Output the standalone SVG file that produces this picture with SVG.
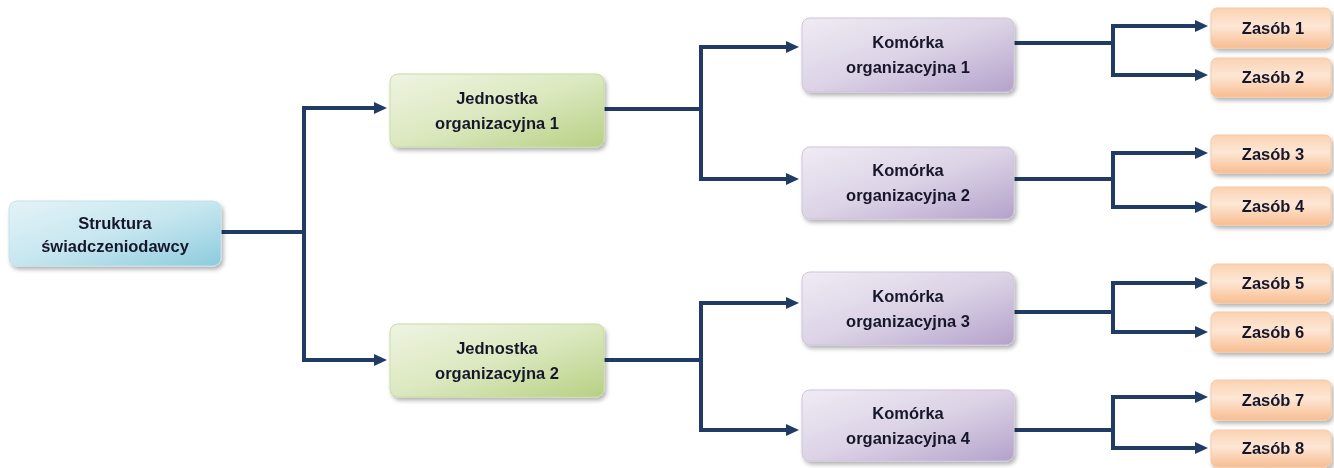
<svg xmlns="http://www.w3.org/2000/svg" width="1334" height="468" viewBox="0 0 1334 468">
<style>
.t{font-family:"Liberation Sans",Arial,sans-serif;font-weight:bold;font-size:16.5px;fill:#17172b;text-anchor:middle}
.c{fill:none;stroke:#203c64;stroke-width:4;stroke-linejoin:miter}
.a{marker-end:url(#ah)}
.root{fill:url(#gRoot);stroke:#c4e3ec;stroke-width:1}
.jed{fill:url(#gJed);stroke:#c9dca1;stroke-width:1}
.kom{fill:url(#gKom);stroke:#cfc4dc;stroke-width:1}
.zas{fill:url(#gZas);stroke:#f6c9a6;stroke-width:1}
</style>
<defs>
<marker id="ah" markerUnits="userSpaceOnUse" markerWidth="14" markerHeight="12" refX="4" refY="6" orient="auto">
<path d="M0,0 L13,6 L0,12 z" fill="#203c64"/>
</marker>
<filter id="sh" x="-10%" y="-20%" width="125%" height="150%">
<feDropShadow dx="2" dy="3" stdDeviation="2" flood-color="#000" flood-opacity="0.3"/>
</filter>
<linearGradient id="gRoot" x1="0" y1="0" x2="1" y2="1">
<stop offset="0" stop-color="#e4f3f7"/><stop offset="0.5" stop-color="#c6e6ef"/><stop offset="1" stop-color="#8ccbdd"/>
</linearGradient>
<linearGradient id="gJed" x1="0" y1="0" x2="1" y2="1">
<stop offset="0" stop-color="#eff4e2"/><stop offset="0.5" stop-color="#dbe8bf"/><stop offset="1" stop-color="#b7d083"/>
</linearGradient>
<linearGradient id="gKom" x1="0" y1="0" x2="1" y2="1">
<stop offset="0" stop-color="#efebf4"/><stop offset="0.5" stop-color="#dcd3e6"/><stop offset="1" stop-color="#b3a2cb"/>
</linearGradient>
<linearGradient id="gZas" x1="0" y1="0" x2="0" y2="1">
<stop offset="0" stop-color="#fbd2b1"/><stop offset="0.45" stop-color="#fde7d6"/><stop offset="1" stop-color="#f8bd90"/>
</linearGradient>
</defs>

<g id="connectors">
<path class="c" d="M221,232 H304 M304,108 V360"/>
<path class="c a" d="M302,108 H378"/>
<path class="c a" d="M302,360 H378"/>
<path class="c" d="M604,109 H701 M701,45 V181"/>
<path class="c a" d="M699,47 H790"/>
<path class="c a" d="M699,179 H790"/>
<path class="c" d="M604,360 H701 M701,301 V432"/>
<path class="c a" d="M699,303 H790"/>
<path class="c a" d="M699,430 H790"/>
<path class="c" d="M1014,43 H1113 M1113,24 V77"/>
<path class="c a" d="M1111,26 H1199"/>
<path class="c a" d="M1111,75 H1199"/>
<path class="c" d="M1014,179 H1113 M1113,151 V209"/>
<path class="c a" d="M1111,153 H1199"/>
<path class="c a" d="M1111,207 H1199"/>
<path class="c" d="M1014,312 H1113 M1113,281 V334"/>
<path class="c a" d="M1111,283 H1199"/>
<path class="c a" d="M1111,332 H1199"/>
<path class="c" d="M1014,430 H1113 M1113,395 V450"/>
<path class="c a" d="M1111,397 H1199"/>
<path class="c a" d="M1111,448 H1199"/>
</g>

<g id="root" filter="url(#sh)">
<rect class="root" x="9" y="201" width="212" height="65" rx="8"/>
<text class="t" x="115" y="229">Struktura</text>
<text class="t" x="115" y="252">świadczeniodawcy</text>
</g>

<g id="jed1" filter="url(#sh)">
<rect class="jed" x="390" y="74" width="214" height="73" rx="8"/>
<text class="t" x="497" y="104">Jednostka</text>
<text class="t" x="497" y="129">organizacyjna 1</text>
</g>
<g id="jed2" filter="url(#sh)">
<rect class="jed" x="390" y="324" width="214" height="73" rx="8"/>
<text class="t" x="497" y="354">Jednostka</text>
<text class="t" x="497" y="379">organizacyjna 2</text>
</g>

<g id="kom1" filter="url(#sh)">
<rect class="kom" x="802" y="18" width="212" height="74" rx="8"/>
<text class="t" x="908" y="48">Komórka</text>
<text class="t" x="908" y="73">organizacyjna 1</text>
</g>
<g id="kom2" filter="url(#sh)">
<rect class="kom" x="802" y="147" width="212" height="72" rx="8"/>
<text class="t" x="908" y="176">Komórka</text>
<text class="t" x="908" y="201">organizacyjna 2</text>
</g>
<g id="kom3" filter="url(#sh)">
<rect class="kom" x="802" y="272" width="212" height="73" rx="8"/>
<text class="t" x="908" y="302">Komórka</text>
<text class="t" x="908" y="327">organizacyjna 3</text>
</g>
<g id="kom4" filter="url(#sh)">
<rect class="kom" x="802" y="390" width="212" height="71" rx="8"/>
<text class="t" x="908" y="419">Komórka</text>
<text class="t" x="908" y="444">organizacyjna 4</text>
</g>

<g id="zas1" filter="url(#sh)"><rect class="zas" x="1211" y="8" width="120" height="40" rx="6"/><text class="t" x="1273" y="34">Zasób 1</text></g>
<g id="zas2" filter="url(#sh)"><rect class="zas" x="1211" y="58" width="120" height="39" rx="6"/><text class="t" x="1273" y="83">Zasób 2</text></g>
<g id="zas3" filter="url(#sh)"><rect class="zas" x="1211" y="135" width="120" height="38" rx="6"/><text class="t" x="1273" y="160">Zasób 3</text></g>
<g id="zas4" filter="url(#sh)"><rect class="zas" x="1211" y="187" width="120" height="38" rx="6"/><text class="t" x="1273" y="212">Zasób 4</text></g>
<g id="zas5" filter="url(#sh)"><rect class="zas" x="1211" y="264" width="120" height="39" rx="6"/><text class="t" x="1273" y="289">Zasób 5</text></g>
<g id="zas6" filter="url(#sh)"><rect class="zas" x="1211" y="312" width="120" height="40" rx="6"/><text class="t" x="1273" y="338">Zasób 6</text></g>
<g id="zas7" filter="url(#sh)"><rect class="zas" x="1211" y="380" width="120" height="40" rx="6"/><text class="t" x="1273" y="406">Zasób 7</text></g>
<g id="zas8" filter="url(#sh)"><rect class="zas" x="1211" y="430" width="120" height="37" rx="6"/><text class="t" x="1273" y="454">Zasób 8</text></g>
</svg>
